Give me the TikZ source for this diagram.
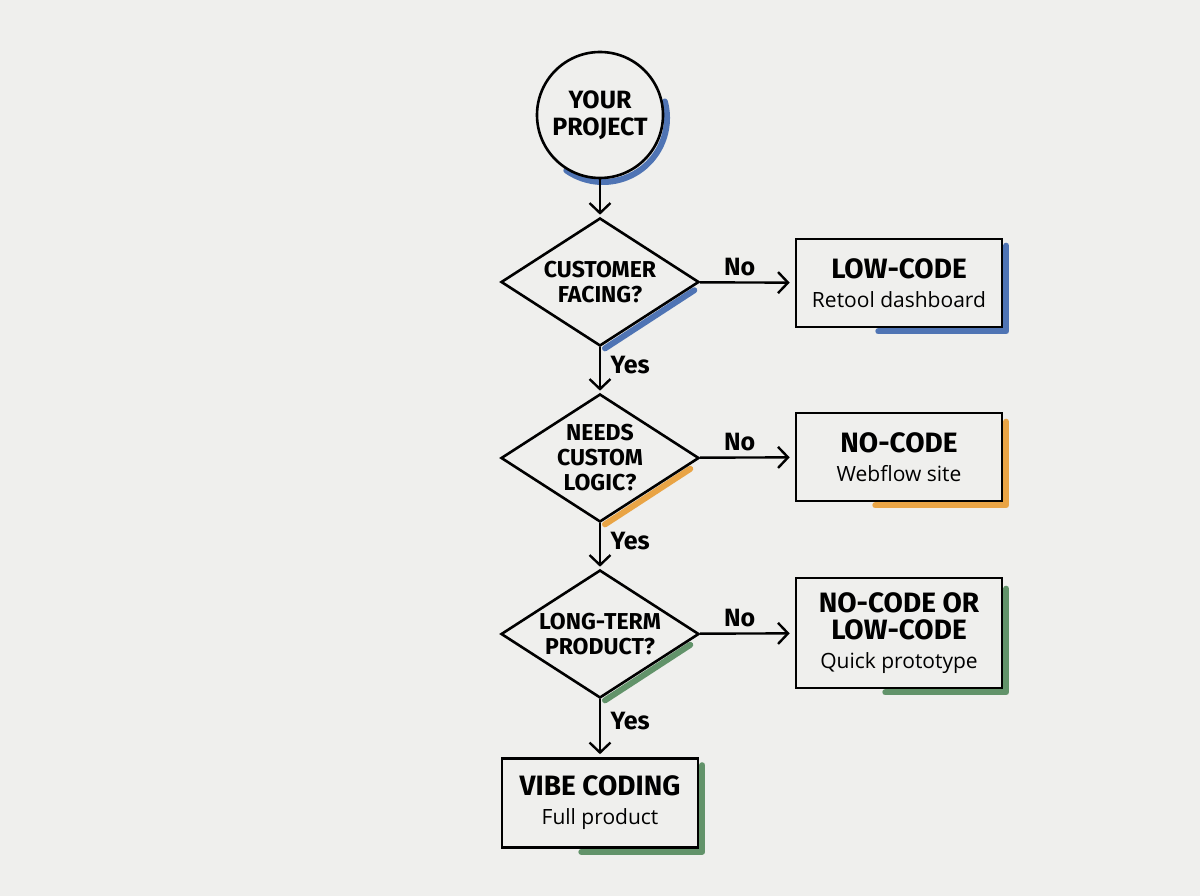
\documentclass[tikz,border=0pt]{standalone}
\usepackage{fontspec}
\setmainfont{Open Sans}
\newfontfamily\headfont{Fira Sans}
\usetikzlibrary{positioning, arrows.meta, calc, shapes.geometric}
\definecolor{paper}{HTML}{EFEFED}
\definecolor{inkblue}{HTML}{4F74B4}
\definecolor{inkorange}{HTML}{E9A445}
\definecolor{inkgreen}{HTML}{62936A}
\pgfdeclarelayer{back}
\pgfdeclarelayer{accent}
\pgfsetlayers{back,accent,main}
\newcommand{\boxhead}[1]{{\headfont\bfseries\fontsize{28}{30}\selectfont #1}}
\newcommand{\boxsub}[1]{{\fontsize{21}{25}\selectfont #1}}
\tikzset{
  start/.style={circle, draw, line width=2.6pt, fill=paper, minimum size=126pt,
    align=center, font=\headfont\bfseries\fontsize{25}{27}\selectfont},
  question/.style={diamond, aspect=1.55, draw, line width=2.6pt, fill=paper,
    minimum width=198pt, minimum height=128pt, inner sep=0pt, align=center,
    font=\headfont\bfseries\fontsize{23}{25}\selectfont},
  outcome/.style={rectangle, draw, line width=2.6pt, fill=paper, minimum width=206pt,
    minimum height=88pt, align=center, font=\fontsize{21}{29}\selectfont},
  flow/.style={-{Straight Barb[length=10pt, width=21pt]}, line width=2.4pt},
  answer/.style={font=\headfont\bfseries\fontsize{25}{27}\selectfont},
  accent/.style={draw=#1, line width=6pt, line cap=round, line join=round},
}

\begin{document}
\begin{tikzpicture}[x=1pt, y=-1pt]
  \begin{pgfonlayer}{back}
    \fill[paper] (0,0) rectangle (1200,896);
  \end{pgfonlayer}
  \useasboundingbox (0,0) rectangle (1200,896);

  % start and the three questions
  \node[start] (project) at (600,115) {YOUR\\PROJECT};
  \node[question] (facing) at (600,282) {CUSTOMER\\FACING?};
  \node[question] (logic) at (600,458) {NEEDS\\CUSTOM\\LOGIC?};
  \node[question] (longterm) at (600,634) {LONG-TERM\\PRODUCT?};

  % outcomes
  \node[outcome] (lowcode) at (899,283) {\boxhead{LOW-CODE}\\\boxsub{Retool dashboard}};
  \node[outcome] (nocode) at (899,457) {\boxhead{NO-CODE}\\\boxsub{Webflow site}};
  \node[outcome, minimum height=110pt, font=\fontsize{21}{27}\selectfont] (either) at (899,633)
    {\boxhead{NO-CODE OR}\\\boxhead{LOW-CODE}\\[2pt]\boxsub{Quick prototype}};
  \node[outcome, minimum width=196pt, minimum height=89pt] (vibe) at (600,803)
    {\boxhead{VIBE CODING}\\\boxsub{Full product}};

  % coloured marker strokes
  \begin{pgfonlayer}{accent}
    \draw[accent=inkblue] ($(project.center)+(3,3)$) ++(-15:64) arc (-15:125:64);
    \draw[accent=inkblue] ($(facing.east)!0.08!(facing.south)+(2,3)$)
      -- ($(facing.east)!0.97!(facing.south)+(2,3)$);
    \draw[accent=inkorange] ($(logic.east)!0.12!(logic.south)+(2,3)$)
      -- ($(logic.east)!0.97!(logic.south)+(2,3)$);
    \draw[accent=inkgreen] ($(longterm.east)!0.12!(longterm.south)+(2,3)$)
      -- ($(longterm.east)!0.97!(longterm.south)+(2,3)$);
    \draw[accent=inkblue] ($(lowcode.north east)+(3,8)$) -- ($(lowcode.south east)+(3,3)$)
      -- ($(lowcode.south east)+(-125,3)$);
    \draw[accent=inkorange] ($(nocode.north east)+(3,10)$) -- ($(nocode.south east)+(3,3)$)
      -- ($(nocode.south east)+(-128,3)$);
    \draw[accent=inkgreen] ($(either.north east)+(3,12)$) -- ($(either.south east)+(3,3)$)
      -- ($(either.south east)+(-118,3)$);
    \draw[accent=inkgreen] ($(vibe.north east)+(3,8)$) -- ($(vibe.south east)+(3,3)$)
      -- ($(vibe.south east)+(-118,3)$);
  \end{pgfonlayer}

  % connectors
  \draw[flow, shorten >=2pt] (project) -- (facing);
  \draw[flow, shorten >=2pt] (facing) -- node[answer, right=6pt, pos=0.4] {Yes} (logic);
  \draw[flow, shorten >=2pt] (logic) -- node[answer, right=6pt, pos=0.4] {Yes} (longterm);
  \draw[flow, shorten >=3pt] (longterm) -- node[answer, right=6pt, pos=0.37] {Yes} (vibe);
  \draw[flow, shorten >=5pt] (facing) -- node[answer, above=2pt, pos=0.42] {No} (lowcode);
  \draw[flow, shorten >=5pt] (logic) -- node[answer, above=2pt, pos=0.42] {No} (nocode);
  \draw[flow, shorten >=5pt] (longterm) -- node[answer, above=2pt, pos=0.42] {No} (either);
\end{tikzpicture}
\end{document}
